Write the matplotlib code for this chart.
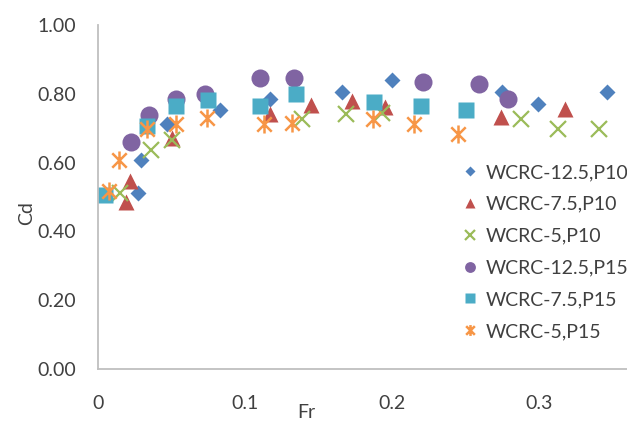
import matplotlib
matplotlib.use('Agg')
import matplotlib.pyplot as plt
from matplotlib.path import Path

plt.rcParams['font.family'] = ['Lato', 'DejaVu Sans']

# WCRC-12.5, P10
fr_125_p10 = [0.027, 0.0295, 0.0467, 0.083, 0.117, 0.166, 0.200, 0.2746, 0.2996, 0.3465]
cd_125_p10 = [0.512, 0.607, 0.713, 0.752, 0.784, 0.806, 0.840, 0.806, 0.770, 0.804]
# WCRC-7.5, P10
fr_75_p10 = [0.019, 0.0215, 0.050, 0.117, 0.145, 0.173, 0.195, 0.274, 0.3177]
cd_75_p10 = [0.485, 0.546, 0.672, 0.741, 0.767, 0.779, 0.762, 0.734, 0.755]
# WCRC-5, P10
fr_5_p10 = [0.015, 0.036, 0.050, 0.139, 0.169, 0.193, 0.2875, 0.313, 0.341]
cd_5_p10 = [0.512, 0.636, 0.665, 0.728, 0.741, 0.745, 0.728, 0.699, 0.699]
# WCRC-12.5, P15
fr_125_p15 = [0.0227, 0.0347, 0.053, 0.073, 0.110, 0.133, 0.221, 0.259, 0.279]
cd_125_p15 = [0.661, 0.738, 0.784, 0.800, 0.845, 0.847, 0.833, 0.828, 0.786]
# WCRC-7.5, P15
fr_75_p15 = [0.005, 0.0336, 0.053, 0.075, 0.110, 0.1345, 0.188, 0.2195, 0.2505]
cd_75_p15 = [0.507, 0.706, 0.765, 0.782, 0.765, 0.799, 0.776, 0.765, 0.753]
# WCRC-5, P15
fr_5_p15 = [0.0075, 0.0143, 0.0336, 0.053, 0.0744, 0.113, 0.132, 0.187, 0.215, 0.245]
cd_5_p15 = [0.517, 0.609, 0.699, 0.713, 0.729, 0.713, 0.716, 0.728, 0.711, 0.682]

y_ticks = [0.0, 0.2, 0.4, 0.6, 0.8, 1.0]
x_ticks = [0, 0.1, 0.2, 0.3]
x_tick_labels = ['0', '0.1', '0.2', '0.3']

# asterisk marker: an X with a vertical stroke through it
asterisk = Path([(-1, -1), (1, 1), (-1, 1), (1, -1), (0, -1.25), (0, 1.25)],
                [Path.MOVETO, Path.LINETO, Path.MOVETO, Path.LINETO, Path.MOVETO, Path.LINETO])

text_col = '#404040'

fig = plt.figure(figsize=(6.27, 4.24), dpi=100)
ax = fig.add_axes([98 / 627, 55 / 424, 529 / 627, 344 / 424])

ax.plot(fr_125_p10, cd_125_p10, ls='none', marker='D', ms=8, color='#4F81BD', mec='none', label='WCRC-12.5,P10')
ax.plot(fr_75_p10, cd_75_p10, ls='none', marker='^', ms=12, color='#C0504D', mec='none', label='WCRC-7.5,P10')
ax.plot(fr_5_p10, cd_5_p10, ls='none', marker='x', ms=11, mew=1.6, color='#9BBB59', label='WCRC-5,P10')
ax.plot(fr_125_p15, cd_125_p15, ls='none', marker='o', ms=13, color='#8064A2', mec='none', label='WCRC-12.5,P15')
ax.plot(fr_75_p15, cd_75_p15, ls='none', marker='s', ms=12, color='#4BACC6', mec='none', label='WCRC-7.5,P15')
ax.plot(fr_5_p15, cd_5_p15, ls='none', marker=asterisk, ms=13, mew=1.8, color='#F79646', mfc='none', label='WCRC-5,P15')

ax.set_xlim(0, 529 / 1470)
ax.set_ylim(0, 1.0)
ax.set_yticks(y_ticks)
ax.set_yticklabels(['%.2f' % v for v in y_ticks])
ax.set_xticks(x_ticks)
ax.set_xticklabels(x_tick_labels)
ax.tick_params(length=0, labelsize=14, labelcolor=text_col)
ax.tick_params(axis='x', pad=19)
ax.tick_params(axis='y', pad=16)

for side in ['top', 'right']:
    ax.spines[side].set_visible(False)
for side in ['left', 'bottom']:
    ax.spines[side].set_color('#BFBFBF')
    ax.spines[side].set_linewidth(1.3)

fig.text(306 / 627, 1 - 412 / 424, 'Fr', fontsize=14, color=text_col, ha='center', va='center')
fig.text(27 / 627, 1 - 213 / 424, 'Cd', fontsize=14, color=text_col, ha='center', va='center', rotation=90)

leg = ax.legend(loc='upper left', bbox_to_anchor=(464 / 627, 1 - 164 / 424), bbox_transform=fig.transFigure,
                frameon=False, fontsize=14, markerscale=0.6, handlelength=0.6, handletextpad=0.5,
                labelspacing=0.76, borderaxespad=0, borderpad=0)
for t in leg.get_texts():
    t.set_color(text_col)

fig.savefig('out.png', dpi=100)
